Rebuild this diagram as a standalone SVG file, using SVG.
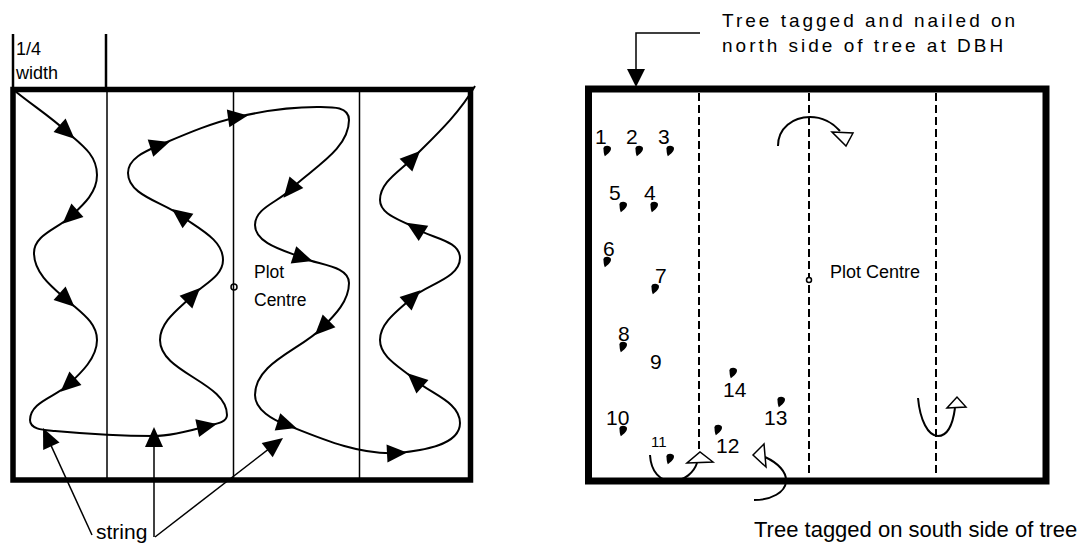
<svg xmlns="http://www.w3.org/2000/svg" xmlns:xlink="http://www.w3.org/1999/xlink" width="1089" height="550" viewBox="0 0 1089 550">
<style>
text{font-family:"Liberation Sans",Arial,sans-serif;fill:#000}
.thin{stroke:#000;stroke-width:1.5;fill:none}
.curve{stroke:#000;stroke-width:2;fill:none}
.dash{stroke:#000;stroke-width:2;stroke-dasharray:8 4;fill:none}
.hollow{fill:#fff;stroke:#000;stroke-width:1.5;stroke-linejoin:miter}
.num{font-size:21px}
</style>
<defs>
<path id="ah" d="M10,0 L-10,-9 L-10,9 Z" fill="#000"/>
<path id="tree" d="M-3.5,-2.7 C-3.5,-6 4,-6 4,-2.4 C4,0.5 0.5,3.3 -2.2,5.3 C-3.3,2.7 -3.5,0 -3.5,-2.7 Z" fill="#000"/>
</defs>
<rect width="1089" height="550" fill="#fff"/>

<g id="left-panel">
  <line class="thin" x1="107" y1="89" x2="107" y2="480"/>
  <line class="thin" x1="233.5" y1="89" x2="233.5" y2="480"/>
  <line class="thin" x1="359.5" y1="89" x2="359.5" y2="480"/>
  <line x1="13" y1="34" x2="13" y2="89" stroke="#000" stroke-width="2.5"/>
  <line x1="106" y1="34" x2="106" y2="89" stroke="#000" stroke-width="2.5"/>
  <rect x="13" y="89.5" width="457.5" height="390.5" fill="none" stroke="#000" stroke-width="5.5"/>
  <text x="16" y="55" font-size="18">1/4</text>
  <text x="16" y="79" font-size="18">width</text>
  <text x="254" y="278" font-size="17.5">Plot</text>
  <text x="254" y="306" font-size="17.5">Centre</text>
  <circle cx="234" cy="287" r="3" class="thin"/>
</g>

<g id="connectors">
  <path class="curve" d="M15,91 C32,105 51,117 67,132 C82,145 97,155 97,175 C97,193 83,205 70,217 C57,229 34,235 34,253 C34,273 52,287 67,300 C80,312 97,322 97,340 C97,358 81,373 68,385 C55,397 30,402 30,420 C30,430 45,430 55,431 C88,434 120,436 153,436 C171,436 190,431 207,426 C215,424 227,423 227,415 C227,382 160,373 160,340 C160,321 180,308 193,295 C204,284 223,276 223,260 C223,239 197,228 180,215 C162,202 128,195 128,173 C128,158 146,151 160,145 C186,134 211,123 238,117 C263,111 291,107 317,107 C331,107 349,106 349,120 C349,150 311,169 290,190 C278,202 255,208 255,225 C255,244 286,251 303,258 C319,265 349,266 349,283 C349,301 335,315 322,328 C300,350 255,363 255,395 C255,410 273,420 287,425 C322,439 359,455 397,453 C420,451 460,446 460,423 C460,402 431,394 415,380 C402,368 380,358 380,340 C380,322 400,309 413,297 C428,284 460,278 460,258 C460,240 430,238 415,228 C402,220 380,215 380,200 C380,182 400,171 413,158 C435,136 459,114 475,86"/>
  <use xlink:href="#ah" transform="translate(67,132) rotate(42)"/>
  <use xlink:href="#ah" transform="translate(70,217) rotate(138)"/>
  <use xlink:href="#ah" transform="translate(67,300) rotate(42)"/>
  <use xlink:href="#ah" transform="translate(68,385) rotate(138)"/>
  <use xlink:href="#ah" transform="translate(207,426) rotate(-12)"/>
  <use xlink:href="#ah" transform="translate(193,295) rotate(-45)"/>
  <use xlink:href="#ah" transform="translate(180,215) rotate(-143)"/>
  <use xlink:href="#ah" transform="translate(160,145) rotate(-18)"/>
  <use xlink:href="#ah" transform="translate(238,117) rotate(-8)"/>
  <use xlink:href="#ah" transform="translate(290,190) rotate(130)"/>
  <use xlink:href="#ah" transform="translate(303,258) rotate(18)"/>
  <use xlink:href="#ah" transform="translate(322,328) rotate(135)"/>
  <use xlink:href="#ah" transform="translate(287,425) rotate(18)"/>
  <use xlink:href="#ah" transform="translate(397,453) rotate(-3)"/>
  <use xlink:href="#ah" transform="translate(415,380) rotate(-138)"/>
  <use xlink:href="#ah" transform="translate(413,297) rotate(-42)"/>
  <use xlink:href="#ah" transform="translate(415,228) rotate(-148)"/>
  <use xlink:href="#ah" transform="translate(413,158) rotate(-45)"/>
  <line class="thin" x1="92" y1="535" x2="47.2" y2="437.1"/>
  <use xlink:href="#ah" transform="translate(47.2,437.1) rotate(-114.6)"/>
  <line class="thin" x1="154" y1="537" x2="154" y2="437"/>
  <use xlink:href="#ah" transform="translate(154,437) rotate(-90)"/>
  <line class="thin" x1="155" y1="537" x2="275.1" y2="444.1"/>
  <use xlink:href="#ah" transform="translate(275.1,444.1) rotate(-37.7)"/>
  <polyline class="thin" points="700,33 636,33 636,72"/>
  <polygon points="627,69 645,69 636,87" fill="#000"/>
</g>
<g id="string-label"><text x="96" y="539" font-size="21">string</text></g>

<g id="right-panel">
  <line class="dash" x1="699" y1="93" x2="699" y2="452"/>
  <line class="dash" x1="809" y1="93" x2="809" y2="476"/>
  <line class="dash" x1="936" y1="93" x2="936" y2="476"/>
  <path class="curve" d="M778,146 C778,128 793,117 810,117 C822,117 833,123 840,131"/>
  <polygon class="hollow" points="832,132 853,133 846,146"/>
  <path class="curve" d="M918,398 C920,420 928,436 938,436 C948,436 953,423 955,408"/>
  <polygon class="hollow" points="947,408 966,407 957,397"/>
  <path class="curve" d="M650,455 C651,472 660,481 672,481 C685,481 694,472 697,463"/>
  <polygon class="hollow" points="687,463 713,462 700,452"/>
  <path class="curve" d="M765,457 C778,463 787,472 786,482 C785,492 772,500 754,500"/>
  <polygon class="hollow" points="753,455 764,444 766,467"/>
  <rect x="588.5" y="89" width="457.5" height="392" fill="none" stroke="#000" stroke-width="7"/>
  <circle cx="809" cy="280" r="2.5" fill="#fff" stroke="#000" stroke-width="1.5"/>
  <text x="830" y="278" font-size="18">Plot Centre</text>
</g>

<g id="trees">
  <g id="t1"><text class="num" x="595" y="144">1</text><use xlink:href="#tree" x="607" y="151"/></g>
  <g id="t2"><text class="num" x="626" y="144">2</text><use xlink:href="#tree" x="639" y="151"/></g>
  <g id="t3"><text class="num" x="658" y="144">3</text><use xlink:href="#tree" x="670" y="151"/></g>
  <g id="t4"><text class="num" x="644" y="200">4</text><use xlink:href="#tree" x="654" y="207"/></g>
  <g id="t5"><text class="num" x="609" y="200">5</text><use xlink:href="#tree" x="623" y="207"/></g>
  <g id="t6"><text class="num" x="603" y="256">6</text><use xlink:href="#tree" x="607" y="262"/></g>
  <g id="t7"><text class="num" x="655" y="283">7</text><use xlink:href="#tree" x="655" y="289"/></g>
  <g id="t8"><text class="num" x="618" y="341">8</text><use xlink:href="#tree" x="623" y="347"/></g>
  <g id="t9"><text class="num" x="650" y="369">9</text></g>
  <g id="t10"><text class="num" x="606" y="425">10</text><use xlink:href="#tree" x="623" y="431"/></g>
  <g id="t11"><text x="651" y="447" font-size="15">11</text><use xlink:href="#tree" x="670" y="459"/></g>
  <g id="t12"><text class="num" x="716" y="453">12</text><use xlink:href="#tree" x="718" y="430"/></g>
  <g id="t13"><text class="num" x="764" y="425">13</text><use xlink:href="#tree" x="781" y="402"/></g>
  <g id="t14"><text class="num" x="723" y="397">14</text><use xlink:href="#tree" x="733" y="373"/></g>
</g>

<g id="labels">
  <text x="722" y="27" font-size="19" letter-spacing="3">Tree tagged and nailed on</text>
  <text x="722" y="52" font-size="19" letter-spacing="3">north side of tree at DBH</text>
  <text x="754" y="537" font-size="22">Tree tagged on south side of tree</text>
</g>
</svg>
